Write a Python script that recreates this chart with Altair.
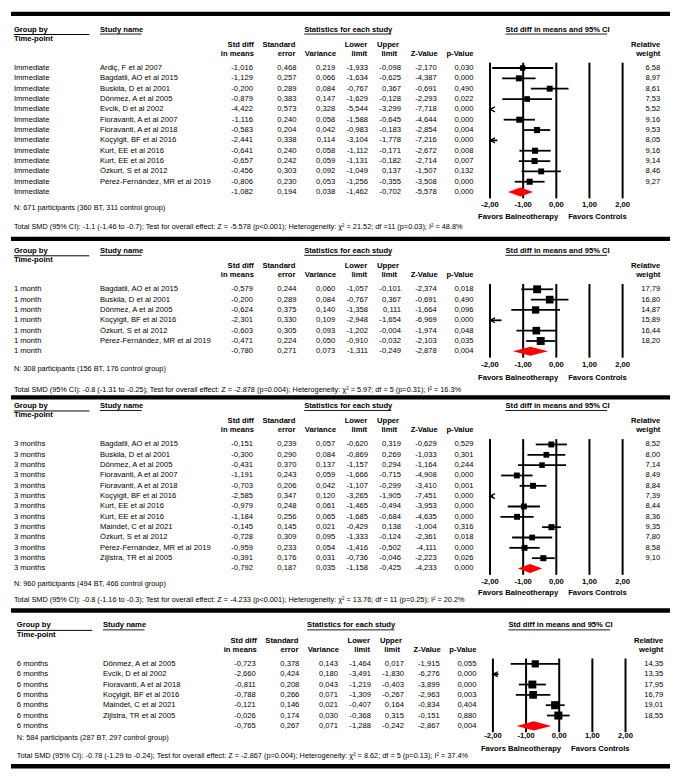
import altair as alt
import pandas as pd

# ----------------------------- data -----------------------------
panel_labels = ["Immediate", "1 month", "3 months", "6 months"]

imm_studies = ["Ardiç, F et al 2007", "Bagdatli, AO et al 2015", "Buskila, D et al 2001",
               "Dönmez, A et al 2005", "Evcik, D et al 2002", "Fioravanti, A et al 2007",
               "Fioravanti, A et al 2018", "Koçyigit, BF et al 2016", "Kurt, EE et al 2016",
               "Kurt, EE et al 2016", "Özkurt, S et al 2012", "Pérez-Fernández, MR et al 2019"]
imm_smd = [-1.016, -1.129, -0.200, -0.879, -4.422, -1.116, -0.583, -2.441, -0.641, -0.657, -0.456, -0.806, -1.082]
imm_se = [0.468, 0.257, 0.289, 0.383, 0.573, 0.240, 0.204, 0.338, 0.240, 0.242, 0.303, 0.230, 0.194]
imm_var = [0.219, 0.066, 0.084, 0.147, 0.328, 0.058, 0.042, 0.114, 0.058, 0.059, 0.092, 0.053, 0.038]
imm_lo = [-1.933, -1.634, -0.767, -1.629, -5.544, -1.588, -0.983, -3.104, -1.112, -1.131, -1.049, -1.256, -1.462]
imm_hi = [-0.098, -0.625, 0.367, -0.128, -3.299, -0.645, -0.183, -1.778, -0.171, -0.182, 0.137, -0.355, -0.702]
imm_z = [-2.170, -4.387, -0.691, -2.293, -7.718, -4.644, -2.854, -7.216, -2.672, -2.714, -1.507, -3.508, -5.578]
imm_p = [0.030, 0.000, 0.490, 0.022, 0.000, 0.000, 0.004, 0.000, 0.008, 0.007, 0.132, 0.000, 0.000]
imm_w = [6.58, 8.97, 8.61, 7.53, 5.52, 9.16, 9.53, 8.05, 9.16, 9.14, 8.46, 9.27]
imm_n = "N: 671 participants (360 BT, 311 control group)"
imm_tot = ("Total SMD (95% CI): -1.1 (-1.46 to -0.7); Test for overall effect: Z = -5.578 (p<0.001); "
           "Heterogeneity: χ² = 21.52; df =11 (p=0.03); I² = 48.8%")

m1_studies = ["Bagdatli, AO et al 2015", "Buskila, D et al 2001", "Dönmez, A et al 2005",
              "Koçyigit, BF et al 2016", "Özkurt, S et al 2012", "Pérez-Fernández, MR et al 2019"]
m1_smd = [-0.579, -0.200, -0.624, -2.301, -0.603, -0.471, -0.780]
m1_se = [0.244, 0.289, 0.375, 0.330, 0.305, 0.224, 0.271]
m1_var = [0.060, 0.084, 0.140, 0.109, 0.093, 0.050, 0.073]
m1_lo = [-1.057, -0.767, -1.358, -2.948, -1.202, -0.910, -1.311]
m1_hi = [-0.101, 0.367, 0.111, -1.654, -0.004, -0.032, -0.249]
m1_z = [-2.374, -0.691, -1.664, -6.969, -1.974, -2.103, -2.878]
m1_p = [0.018, 0.490, 0.096, 0.000, 0.048, 0.035, 0.004]
m1_w = [17.79, 16.80, 14.87, 15.89, 16.44, 18.20]
m1_n = "N: 308 participants (156 BT, 176 control group)"
m1_tot = ("Total SMD (95% CI): -0.8 (-1.31 to -0.25); Test for overall effect: Z = -2.878 (p=0.004); "
          "Heterogeneity: χ² = 5.97; df = 5 (p=0.31); I² = 16.3%")

m3_studies = ["Bagdatli, AO et al 2015", "Buskila, D et al 2001", "Dönmez, A et al 2005",
              "Fioravanti, A et al 2007", "Fioravanti, A et al 2018", "Koçyigit, BF et al 2016",
              "Kurt, EE et al 2016", "Kurt, EE et al 2016", "Maindet, C et al 2021",
              "Özkurt, S et al 2012", "Pérez-Fernández, MR et al 2019", "Zijlstra, TR et al 2005"]
m3_smd = [-0.151, -0.300, -0.431, -1.191, -0.703, -2.585, -0.979, -1.184, -0.145, -0.728, -0.959, -0.391, -0.792]
m3_se = [0.239, 0.290, 0.370, 0.243, 0.206, 0.347, 0.248, 0.256, 0.145, 0.309, 0.233, 0.176, 0.187]
m3_var = [0.057, 0.084, 0.137, 0.059, 0.042, 0.120, 0.061, 0.065, 0.021, 0.095, 0.054, 0.031, 0.035]
m3_lo = [-0.620, -0.869, -1.157, -1.666, -1.107, -3.265, -1.465, -1.685, -0.429, -1.333, -1.416, -0.736, -1.158]
m3_hi = [0.319, 0.269, 0.294, -0.715, -0.299, -1.905, -0.494, -0.684, 0.138, -0.124, -0.502, -0.046, -0.425]
m3_z = [-0.629, -1.033, -1.164, -4.908, -3.410, -7.451, -3.953, -4.635, -1.004, -2.361, -4.111, -2.223, -4.233]
m3_p = [0.529, 0.301, 0.244, 0.000, 0.001, 0.000, 0.000, 0.000, 0.316, 0.018, 0.000, 0.026, 0.000]
m3_w = [8.52, 8.00, 7.14, 8.49, 8.84, 7.39, 8.44, 8.36, 9.35, 7.80, 8.58, 9.10]
m3_n = "N: 960 participants (494 BT, 466 control group)"
m3_tot = ("Total SMD (95% CI): -0.8 (-1.16 to -0.3); Test for overall effect: Z = -4.233 (p<0.001); "
          "Heterogeneity: χ² = 13.76; df = 11 (p=0.25); I² = 20.2%")

m6_studies = ["Dönmez, A et al 2005", "Evcik, D et al 2002", "Fioravanti, A et al 2018",
              "Koçyigit, BF et al 2016", "Maindet, C et al 2021", "Zijlstra, TR et al 2005"]
m6_smd = [-0.723, -2.660, -0.811, -0.788, -0.121, -0.026, -0.765]
m6_se = [0.378, 0.424, 0.208, 0.266, 0.146, 0.174, 0.267]
m6_var = [0.143, 0.180, 0.043, 0.071, 0.021, 0.030, 0.071]
m6_lo = [-1.464, -3.491, -1.219, -1.309, -0.407, -0.368, -1.288]
m6_hi = [0.017, -1.830, -0.403, -0.267, 0.164, 0.315, -0.242]
m6_z = [-1.915, -6.276, -3.899, -2.963, -0.834, -0.151, -2.867]
m6_p = [0.055, 0.000, 0.000, 0.003, 0.404, 0.880, 0.004]
m6_w = [14.35, 13.35, 17.95, 16.79, 19.01, 18.55]
m6_n = "N: 584 participants (287 BT, 297 control group)"
m6_tot = ("Total SMD (95% CI): -0.78 (-1.29 to -0.24); Test for overall effect: Z = -2.867 (p=0.004); "
          "Heterogeneity: χ² = 8.62; df = 5 (p=0.13); I² = 37.4%")

axis_ticks = [-2, -1, 0, 1, 2]
axis_tick_labels = ["-2,00", "-1,00", "0,00", "1,00", "2,00"]

# ----------------------------- layout -----------------------------
W = 665
SX = 665 / 681
SY = 762 / 778
STEP = 10.65
FONT = "Liberation Sans"
FS = 7.7
FSF = 7.4
TXT = "#000000"

panel_top = [0, 231, 394, 612.5]
panel_h = [231, 163, 218.5, 165.5]
first_row = [58.3, 285.5, 445, 670]
tick_y = [199.3, 363.5, 587, 744.3]
favor_y = [212.3, 377, 598.5, 757.5]
n_y = [202.7, 368, 589, 746]
smd_y = [221.7, 389, 605.5, 764.5]
line_y = [2.5, 233.5, 396.5, 615]
bottom_line = 775.5
x_shift = [0, 0, 0, 3]

one = alt.Data(values=[{"a": 1}])


def fmt3(v):
    return f"{v:.3f}".replace(".", ",")


def build_panel(i, label, studies, smd, se, var, lo, hi, z, p, w, n_txt, tot_txt, last=False):
    top = panel_top[i]
    dx = x_shift[i]

    def X(v):
        return (v + dx) * SX

    def Y(v):
        return (v - top) * SY

    n = len(studies)
    df = pd.DataFrame({
        "row": list(range(n + 1)),
        "tp": [label] * (n + 1),
        "study": studies + [""],
        "smd": smd, "se": se, "var": var, "lo": lo, "hi": hi, "z": z, "p": p,
        "w": w + [0.0],
    })
    for c in ["smd", "se", "var", "lo", "hi", "z", "p"]:
        df[c + "_s"] = df[c].map(fmt3)
    df["w_s"] = [f"{v:.2f}".replace(".", ",") for v in w] + [""]

    ys = alt.Scale(domain=[0, n], range=[Y(first_row[i]), Y(first_row[i] + n * STEP)])
    xs = alt.Scale(domain=[-2, 2], range=[X(495), X(632)])
    yenc = alt.Y("row:Q", scale=ys, axis=None)

    layers = []

    def col_text(field, xpos, align):
        return alt.Chart(df).mark_text(align=align, baseline="middle", font=FONT, fontSize=FS,
                                       color=TXT).encode(
            x=alt.value(X(xpos)), y=yenc, text=f"{field}:N")

    def lab(s, xpos, ypos, align="left", bold=False, size=FS):
        return alt.Chart(one).mark_text(text=s, align=align, baseline="middle", font=FONT,
                                        fontSize=size, fontWeight="bold" if bold else "normal",
                                        color=TXT).encode(
            x=alt.value(X(xpos)), y=alt.value(Y(ypos)))

    def hline(x1, x2, ypos, sw):
        return alt.Chart(one).mark_rule(color="black", strokeWidth=sw).encode(
            x=alt.value(X(x1)), x2=alt.value(X(x2)), y=alt.value(Y(ypos)))

    # thick separator lines
    layers.append(alt.Chart(one).mark_rule(color="black", strokeWidth=4.4).encode(
        x=alt.value(0), x2=alt.value(W), y=alt.value(Y(line_y[i]))))
    if last:
        layers.append(alt.Chart(one).mark_rule(color="black", strokeWidth=4.4).encode(
            x=alt.value(0), x2=alt.value(W), y=alt.value(Y(bottom_line))))

    # headers
    fr = first_row[i]
    gy = fr - 39.5
    uy = fr - 35
    layers += [
        lab("Group by", 3, gy, bold=True), hline(3, 81, gy + 5, 1),
        lab("Time-point", 3, fr - 30, bold=True),
        lab("Study name", 92, gy, bold=True), hline(92, 135, uy, 0.9),
        lab("Statistics for each study", 303, gy, bold=True), hline(303, 393, uy, 0.9),
        lab("Std diff in means and 95% CI", 511, gy, bold=True), hline(511, 616, uy, 0.9),
    ]
    h1 = fr - 24
    h2 = fr - 14.5
    layers += [
        lab("Std diff", 251, h1, "right", True), lab("in means", 251, h2, "right", True),
        lab("Standard", 294, h1, "right", True), lab("error", 294, h2, "right", True),
        lab("Variance", 336, h2, "right", True),
        lab("Lower", 368, h1, "right", True), lab("limit", 368, h2, "right", True),
        lab("Upper", 401, h1, "right", True), lab("limit", 399, h2, "right", True),
        lab("Z-Value", 441, h2, "right", True),
        lab("p-Value", 478, h2, "right", True),
        lab("Relative", 671, h1, "right", True), lab("weight", 671, h2, "right", True),
    ]

    # table columns
    layers += [
        col_text("tp", 3, "left"), col_text("study", 92, "left"),
        col_text("smd_s", 250, "right"), col_text("se_s", 295, "right"),
        col_text("var_s", 335, "right"), col_text("lo_s", 369, "right"),
        col_text("hi_s", 403, "right"), col_text("z_s", 440, "right"),
        col_text("p_s", 478, "right"), col_text("w_s", 671, "right"),
    ]

    # forest: reference lines
    tdf = pd.DataFrame({"v": axis_ticks, "lab": axis_tick_labels})
    layers.append(alt.Chart(tdf).mark_rule(color="black", strokeWidth=2).encode(
        x=alt.X("v:Q", scale=xs, axis=None),
        y=alt.value(Y(fr - 5.5)), y2=alt.value(Y(fr + n * STEP + 6.5))))
    layers.append(alt.Chart(tdf).mark_text(font=FONT, fontSize=FS, fontWeight="bold", color=TXT,
                                           baseline="middle", align="center").encode(
        x=alt.X("v:Q", scale=xs, axis=None), y=alt.value(Y(tick_y[i])), text="lab:N"))
    layers += [
        lab("Favors Balneotherapy", 524, favor_y[i], "center", True),
        lab("Favors Controls", 606, favor_y[i], "center", True),
    ]

    # CI lines (clipped to the axis range)
    layers.append(alt.Chart(df).transform_filter(
        f"datum.row < {n} && datum.hi > -2 && datum.lo < 2").transform_calculate(
        lo_c="max(datum.lo, -2)", hi_c="min(datum.hi, 2)").mark_rule(
        color="black", strokeWidth=1.8).encode(
        x=alt.X("lo_c:Q", scale=xs, axis=None), x2="hi_c:Q", y=yenc))
    # squares
    layers.append(alt.Chart(df).transform_filter(
        f"datum.row < {n} && datum.smd >= -2 && datum.smd <= 2").mark_square(
        color="black", filled=True, opacity=1).encode(
        x=alt.X("smd:Q", scale=xs, axis=None), y=yenc,
        size=alt.Size("w:Q", scale=alt.Scale(domain=[5, 20], range=[25, 70]), legend=None)))
    # arrows for CIs running off the left edge
    layers.append(alt.Chart(df).transform_filter(
        f"datum.row < {n} && datum.lo < -2").transform_calculate(edge="-2").mark_point(
        shape="M2,-1L0,0L2,1", filled=False, color="black", strokeWidth=1.3, size=25,
        opacity=1).encode(x=alt.X("edge:Q", scale=xs, axis=None), y=yenc))
    # summary diamond
    ddf = pd.DataFrame({"x": [lo[n], smd[n], hi[n]], "k": [0, 1, 0], "row": [n, n, n]})
    layers.append(alt.Chart(ddf).transform_calculate(
        ya="datum.row - 0.44 * datum.k", yb="datum.row + 0.44 * datum.k").mark_area(
        color="#ff0000", opacity=1).encode(
        x=alt.X("x:Q", scale=xs, axis=None), y=alt.Y("ya:Q", scale=ys, axis=None), y2="yb:Q"))

    # footers
    layers += [lab(n_txt, 3, n_y[i], size=FSF), lab(tot_txt, 3, smd_y[i], size=FSF)]

    return alt.layer(*layers).properties(width=W, height=panel_h[i] * SY)


panels = [
    build_panel(0, panel_labels[0], imm_studies, imm_smd, imm_se, imm_var, imm_lo, imm_hi,
                imm_z, imm_p, imm_w, imm_n, imm_tot),
    build_panel(1, panel_labels[1], m1_studies, m1_smd, m1_se, m1_var, m1_lo, m1_hi,
                m1_z, m1_p, m1_w, m1_n, m1_tot),
    build_panel(2, panel_labels[2], m3_studies, m3_smd, m3_se, m3_var, m3_lo, m3_hi,
                m3_z, m3_p, m3_w, m3_n, m3_tot),
    build_panel(3, panel_labels[3], m6_studies, m6_smd, m6_se, m6_var, m6_lo, m6_hi,
                m6_z, m6_p, m6_w, m6_n, m6_tot, last=True),
]

chart = alt.vconcat(*panels, spacing=0, bounds="flush").properties(
    padding=0, background="white").configure_view(strokeWidth=0)

chart.save("out.html", embed_options={"renderer": "svg", "actions": False})
